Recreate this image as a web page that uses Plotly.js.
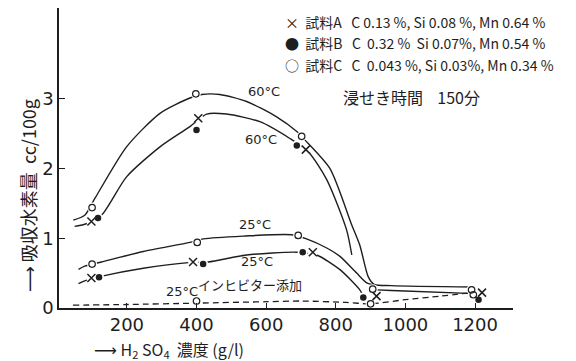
<!DOCTYPE html>
<html>
<head>
<meta charset="utf-8">
<script src="https://cdn.plot.ly/plotly-3.0.1.min.js"></script>
<style>html,body{margin:0;padding:0;background:#fff;}#chart{width:576px;height:361px;}</style>
</head>
<body>
<div id="chart"></div>
<script>
// ---- data ----
// measured points (H2SO4 g/l, absorbed H2 cc/100g)
const a60X = [98, 405, 714, 917, 1220];
const a60Y = [1.24, 2.72, 2.27, 0.17, 0.22];
const a25X = [98, 390, 734];
const a25Y = [0.43, 0.66, 0.80];
const b60X = [117, 400, 688, 879, 1210];
const b60Y = [1.29, 2.55, 2.33, 0.15, 0.12];
const b25X = [120, 419, 705];
const b25Y = [0.44, 0.63, 0.80];
const c60X = [100, 398, 702, 906, 1190];
const c60Y = [1.44, 3.07, 2.46, 0.27, 0.26];
const c25X = [100, 402, 692];
const c25Y = [0.63, 0.94, 1.04];
const cInhX = [400, 900, 1195];
const cInhY = [0.10, 0.06, 0.19];

// hand-drawn curves
const up60X = [46, 79, 108, 199, 295, 381, 415, 467, 544, 630, 688, 711, 783, 845, 869, 893, 910, 960, 1200];
const up60Y = [1.26, 1.33, 1.57, 2.31, 2.79, 3.01, 3.06, 3.06, 2.96, 2.74, 2.53, 2.41, 2.00, 1.20, 0.90, 0.45, 0.34, 0.32, 0.30];
const lo60X = [50, 79, 127, 199, 295, 381, 429, 486, 582, 668, 721, 774, 831, 846, null, 918, 960, 1180];
const lo60Y = [1.17, 1.20, 1.33, 1.88, 2.31, 2.60, 2.78, 2.78, 2.67, 2.43, 2.24, 1.84, 1.12, 0.76, null, 0.26, 0.25, 0.21];
const up25X = [61, 79, 127, 247, 381, 420, 534, 673, 716, 774, 812, 860, 889, 910];
const up25Y = [0.555, 0.60, 0.66, 0.81, 0.94, 0.99, 1.03, 1.05, 0.99, 0.86, 0.74, 0.50, 0.36, 0.33];
const lo25X = [61, 79, 132, 247, 377, 434, 544, 688, 745, 812, 869, 878];
const lo25Y = [0.35, 0.39, 0.46, 0.57, 0.65, 0.66, 0.76, 0.80, 0.76, 0.55, 0.26, 0.18];
const inhX = [45, 200, 400, 600, 700, 830, 900, 1000, 1100, 1190];
const inhY = [0.04, 0.05, 0.07, 0.09, 0.10, 0.08, 0.06, 0.12, 0.17, 0.22];

const xTicks = [200, 400, 600, 800, 1000, 1200];
const yTicks = [0, 1, 2, 3];
const legendRows = [
  '×  試料A   C 0.13 %, Si 0.08 %, Mn 0.64 %',
  '●  試料B   C  0.32 %  Si 0.07%, Mn 0.54 %',
  '○  試料C   C  0.043 %, Si 0.03%, Mn 0.34 %'
];
const timeNote = '浸せき時間    150分';
const curveLabels = ['60°C', '60°C', '25°C', '25°C', '25°C'];
const inhLabel = 'インヒビター添加';

// ---- drawing ----
const INK = '#1e1e1e';
const lineStyle = {color: INK, width: 1.4, shape: 'spline', smoothing: 0.7};
const traces = [];
[[up60X, up60Y], [lo60X, lo60Y], [up25X, up25Y], [lo25X, lo25Y]].forEach(([x, y]) => {
  traces.push({x, y, mode: 'lines', line: lineStyle, connectgaps: false, hoverinfo: 'skip', showlegend: false});
});
traces.push({x: inhX, y: inhY, mode: 'lines', line: {color: INK, width: 1.3, dash: '6px,4px', shape: 'spline', smoothing: 0.7}, showlegend: false});

// white halos give the small gaps of the original drawing
const allX = [].concat(a60X, a25X, b60X, b25X, c60X, c25X, cInhX);
const allY = [].concat(a60Y, a25Y, b60Y, b25Y, c60Y, c25Y, cInhY);
traces.push({x: allX, y: allY, mode: 'markers', marker: {symbol: 'circle', size: 10, color: '#fff'}, showlegend: false, hoverinfo: 'skip'});

const mkA = {symbol: 'x-thin-open', size: 8, line: {color: INK, width: 1.5}, color: INK};
const mkB = {symbol: 'circle', size: 6.5, color: INK, line: {width: 0}};
const mkC = {symbol: 'circle-open', size: 6.5, color: INK, line: {color: INK, width: 1.2}};
traces.push({x: a60X.concat(a25X), y: a60Y.concat(a25Y), mode: 'markers', marker: mkA, name: '試料A', showlegend: false});
traces.push({x: b60X.concat(b25X), y: b60Y.concat(b25Y), mode: 'markers', marker: mkB, name: '試料B', showlegend: false});
traces.push({x: c60X.concat(c25X, cInhX), y: c60Y.concat(c25Y, cInhY), mode: 'markers', marker: mkC, name: '試料C', showlegend: false});

const JP = '"Noto Sans CJK JP", "DejaVu Sans", sans-serif';
const NUM = '"DejaVu Sans", sans-serif';
const ann = [];
// legend block
legendRows.forEach((t, i) => {
  ann.push({xref: 'paper', yref: 'paper', x: (283 - 59) / 454, y: (308 - [22, 43, 65][i]) / 300,
    xanchor: 'left', yanchor: 'middle', text: t, showarrow: false, font: {family: JP, size: 14, color: INK}});
});
ann.push({xref: 'paper', yref: 'paper', x: (411 - 59) / 454, y: (308 - 97) / 300, xanchor: 'center', yanchor: 'middle',
  text: timeNote, showarrow: false, font: {family: JP, size: 16, color: INK}});
// curve labels
const clPos = [[594, 3.10], [585, 2.41], [568, 1.19], [574, 0.66], [358, 0.23]];
curveLabels.forEach((t, i) => {
  ann.push({x: clPos[i][0], y: clPos[i][1], text: t, showarrow: false, xanchor: 'center', yanchor: 'middle',
    font: {family: NUM, size: 13, color: INK}});
});
ann.push({x: 553, y: 0.33, text: inhLabel, showarrow: false, xanchor: 'center', yanchor: 'middle',
  font: {family: JP, size: 13, color: INK}});
// axis titles
ann.push({xref: 'paper', yref: 'paper', x: (28 - 59) / 454, y: (308 - 196) / 300, xanchor: 'center', yanchor: 'middle',
  textangle: -90, text: '<span style="font-family:DejaVu Sans">⟶</span> 吸収水素量  cc/100g', showarrow: false, font: {family: JP, size: 18, color: INK}});
ann.push({xref: 'paper', yref: 'paper', x: (92 - 59) / 454, y: (308 - 349) / 300, xanchor: 'left', yanchor: 'middle',
  text: '<span style="font-family:DejaVu Sans">⟶</span> H<sub>2</sub> SO<sub>4</sub>  濃度 (g/l)', showarrow: false, font: {family: JP, size: 16, color: INK}});

const layout = {
  width: 576, height: 361,
  margin: {l: 59, r: 63, t: 8, b: 53},
  paper_bgcolor: '#fff', plot_bgcolor: '#fff',
  showlegend: false,
  xaxis: {range: [5, 1309], tickvals: xTicks, ticktext: xTicks.map(String), ticks: 'inside', ticklen: 5,
    tickcolor: INK, showline: true, linecolor: INK, linewidth: 1.6, showgrid: false, zeroline: false,
    tickfont: {family: NUM, size: 18, color: INK}},
  yaxis: {range: [0, 4.3], tickvals: yTicks, ticktext: yTicks.map(String), ticks: 'inside', ticklen: 6,
    tickcolor: INK, showline: true, linecolor: INK, linewidth: 1.6, showgrid: false, zeroline: false,
    tickfont: {family: NUM, size: 18, color: INK}},
  annotations: ann
};
Plotly.newPlot('chart', traces, layout, {staticPlot: true, displayModeBar: false});
</script>
</body>
</html>
